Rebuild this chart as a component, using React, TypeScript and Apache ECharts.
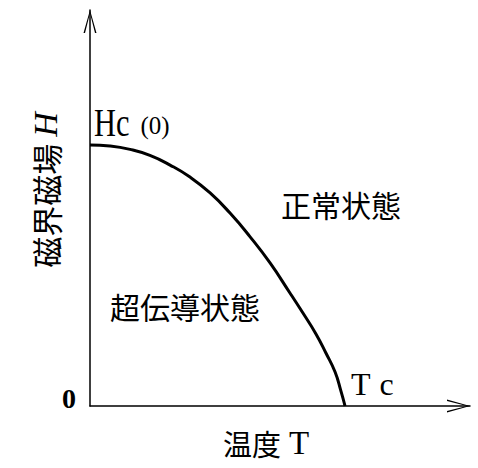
import React, { useEffect, useRef } from "react";
import * as echarts from "echarts";

// Critical field curve (T / Tc, H / Hc(0))
const T_VALUES = [0, 0.078, 0.157, 0.235, 0.314, 0.392, 0.471, 0.549, 0.627, 0.706, 0.784, 0.835, 0.886, 0.925, 0.961, 0.984, 1.0];
const H_VALUES = [1.0, 0.996, 0.983, 0.96, 0.923, 0.877, 0.816, 0.739, 0.649, 0.548, 0.433, 0.356, 0.276, 0.203, 0.13, 0.057, 0];

const X_MAX = 1.49;
const Y_MAX = 1.517;

const Y_LABEL = "磁界磁場 ";
const Y_LABEL_VAR = "H";
const X_LABEL_JP = "温度";
const X_LABEL_VAR = "T";
const HC_LABEL = "Hc";
const HC_SUB = "(0)";
const TC_T = "T";
const TC_C = "c";
const ORIGIN_LABEL = "0";
const NORMAL_LABEL = "正常状態";
const SC_LABEL = "超伝導状態";

const SERIF = "'Liberation Serif', 'Noto Sans CJK JP', serif";
const CJK = "'Noto Sans CJK JP', sans-serif";

const ARROW = "path://M0,23 L6.5,0 L13,23 L11.5,23 L6.5,3.2 L1.5,23 Z";

export default function App() {
  const ref = useRef<HTMLDivElement>(null);

  useEffect(() => {
    if (!ref.current) return;
    const chart = echarts.init(ref.current, null, { renderer: "svg" });
    const data = T_VALUES.map((t, i) => [t, H_VALUES[i]]);

    const axisCommon = {
      type: "value" as const,
      min: 0,
      splitLine: { show: false },
      axisTick: { show: false },
      axisLabel: { show: false },
      axisLine: {
        show: true,
        symbol: ["none", ARROW],
        symbolSize: [13, 23],
        symbolOffset: [0, -11.5],
        lineStyle: { color: "#000", width: 1.5 },
      },
    };

    chart.setOption({
      animation: false,
      backgroundColor: "#fff",
      grid: { left: 90, right: 8, top: 10, bottom: 62, containLabel: false },
      xAxis: { ...axisCommon, max: X_MAX },
      yAxis: { ...axisCommon, max: Y_MAX },
      series: [
        {
          type: "line",
          data,
          smooth: 0.5,
          showSymbol: false,
          symbol: "none",
          lineStyle: { color: "#000", width: 3 },
        },
      ],
      graphic: [
        {
          type: "text",
          x: 94,
          y: 142,
          scaleX: 0.76,
          style: {
            text: HC_LABEL,
            fontFamily: SERIF,
            fontSize: 40,
            fill: "#000",
            textAlign: "left",
            textVerticalAlign: "bottom",
          },
        },
        {
          type: "text",
          x: 155,
          y: 138,
          style: {
            text: HC_SUB,
            fontFamily: SERIF,
            fontSize: 25,
            fill: "#000",
            textAlign: "center",
            textVerticalAlign: "bottom",
          },
        },
        {
          type: "text",
          x: 341,
          y: 204,
          style: {
            text: NORMAL_LABEL,
            fontFamily: CJK,
            fontSize: 30,
            fill: "#000",
            textAlign: "center",
            textVerticalAlign: "middle",
          },
        },
        {
          type: "text",
          x: 185,
          y: 306,
          style: {
            text: SC_LABEL,
            fontFamily: CJK,
            fontSize: 30,
            fill: "#000",
            textAlign: "center",
            textVerticalAlign: "middle",
          },
        },
        {
          type: "text",
          x: 351,
          y: 384,
          style: {
            text: `{t|${TC_T}}{c|${TC_C}}`,
            fontFamily: SERIF,
            fontSize: 32,
            fill: "#000",
            textAlign: "left",
            textVerticalAlign: "middle",
            rich: {
              t: { fontFamily: SERIF, fontSize: 32, fill: "#000", padding: [0, 9, 0, 0] },
              c: { fontFamily: SERIF, fontSize: 32, fill: "#000" },
            },
          },
        },
        {
          type: "text",
          x: 69,
          y: 398,
          style: {
            text: ORIGIN_LABEL,
            fontFamily: SERIF,
            fontSize: 28,
            fontWeight: "bold",
            fill: "#000",
            textAlign: "center",
            textVerticalAlign: "middle",
          },
        },
        {
          type: "text",
          x: 266,
          y: 443,
          style: {
            text: `{a|${X_LABEL_JP}}{t|${X_LABEL_VAR}}`,
            fontFamily: CJK,
            fontSize: 29,
            fill: "#000",
            textAlign: "center",
            textVerticalAlign: "middle",
            rich: {
              a: { fontFamily: CJK, fontSize: 29, fill: "#000" },
              t: { fontFamily: SERIF, fontSize: 33, fill: "#000", padding: [0, 0, 0, 8] },
            },
          },
        },
        {
          type: "text",
          x: 45,
          y: 190,
          rotation: Math.PI / 2,
          style: {
            text: `{a|${Y_LABEL}}{h|${Y_LABEL_VAR}}`,
            fontFamily: CJK,
            fontSize: 30,
            fill: "#000",
            textAlign: "center",
            textVerticalAlign: "middle",
            rich: {
              a: { fontFamily: CJK, fontSize: 31, fill: "#000" },
              h: { fontFamily: SERIF, fontStyle: "italic", fontSize: 34, fill: "#000" },
            },
          },
        },
      ],
    });

    return () => chart.dispose();
  }, []);

  return (
    <div
      ref={ref}
      style={{ position: "fixed", left: 0, top: 0, width: 478, height: 468 }}
    />
  );
}
